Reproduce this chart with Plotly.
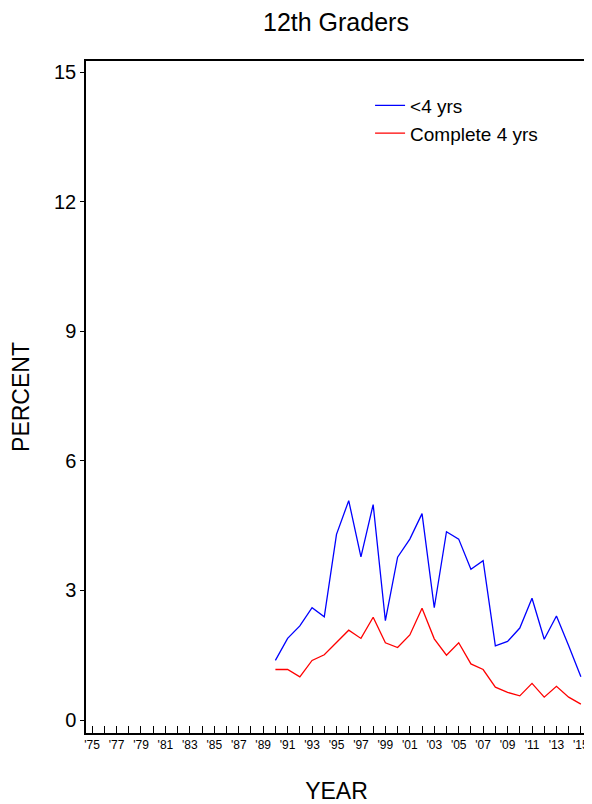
import plotly.graph_objects as go

years = list(range(1990, 2016))

# <4 years of college
less_4yrs = [1.38, 1.89, 2.18, 2.60, 2.39, 4.30, 5.08, 3.78, 4.99, 2.30,
             3.77, 4.19, 4.78, 2.60, 4.36, 4.19, 3.49, 3.69, 1.72, 1.82,
             2.13, 2.82, 1.87, 2.41, 1.72, 1.00]

# complete 4 years
complete_4yrs = [1.17, 1.17, 1.00, 1.38, 1.51, 1.80, 2.08, 1.89, 2.38, 1.79,
                 1.68, 1.97, 2.59, 1.88, 1.50, 1.79, 1.30, 1.17, 0.76, 0.64,
                 0.56, 0.85, 0.53, 0.78, 0.53, 0.37]

tick_years = list(range(1975, 2016))
tick_text = ["'%02d" % (y % 100) if (y - 1975) % 2 == 0 else "" for y in tick_years]

y_ticks = [0, 3, 6, 9, 12, 15]

font_family = "Liberation Sans, Arial, sans-serif"

fig = go.Figure()
fig.add_trace(go.Scatter(x=years, y=less_4yrs, mode="lines", name="<4 yrs",
                         line=dict(color="#0000FF", width=1.3)))
fig.add_trace(go.Scatter(x=years, y=complete_4yrs, mode="lines", name="Complete 4 yrs",
                         line=dict(color="#FF0000", width=1.3)))

# page body has an 8px margin, so the figure is a bit smaller than the window
fig.update_layout(
    width=584, height=796,
    margin=dict(l=78, r=5, t=53, b=71, autoexpand=False),
    paper_bgcolor="white", plot_bgcolor="white",
    font=dict(family=font_family, color="black"),
    title=dict(text="12th Graders", x=0.5616, xanchor="center", y=0.982, yanchor="middle",
               font=dict(size=25)),
    showlegend=True,
    legend=dict(x=0.567, y=0.962, xanchor="left", yanchor="top",
                font=dict(size=19), bgcolor="rgba(0,0,0,0)",
                tracegroupgap=0, itemwidth=30),
    xaxis=dict(
        range=[1974.5, 2015.5], automargin=False,
        tickmode="array", tickvals=tick_years, ticktext=tick_text,
        ticks="inside", ticklen=7, tickwidth=1.3, tickcolor="black",
        tickfont=dict(size=12), tickangle=0,
        showgrid=False, zeroline=False,
        showline=True, linecolor="black", linewidth=1.5, mirror=True,
        title=dict(text="YEAR", font=dict(size=23), standoff=37),
    ),
    yaxis=dict(
        range=[-0.3, 15.26], automargin=False,
        tickmode="array", tickvals=y_ticks,
        ticks="outside", ticklen=4, tickwidth=1.3, tickcolor="black",
        tickfont=dict(size=20),
        showgrid=False, zeroline=False,
        showline=True, linecolor="black", linewidth=1.5, mirror=True,
        title=dict(text="PERCENT", font=dict(size=23), standoff=26),
    ),
)

fig.write_html("out.html")
